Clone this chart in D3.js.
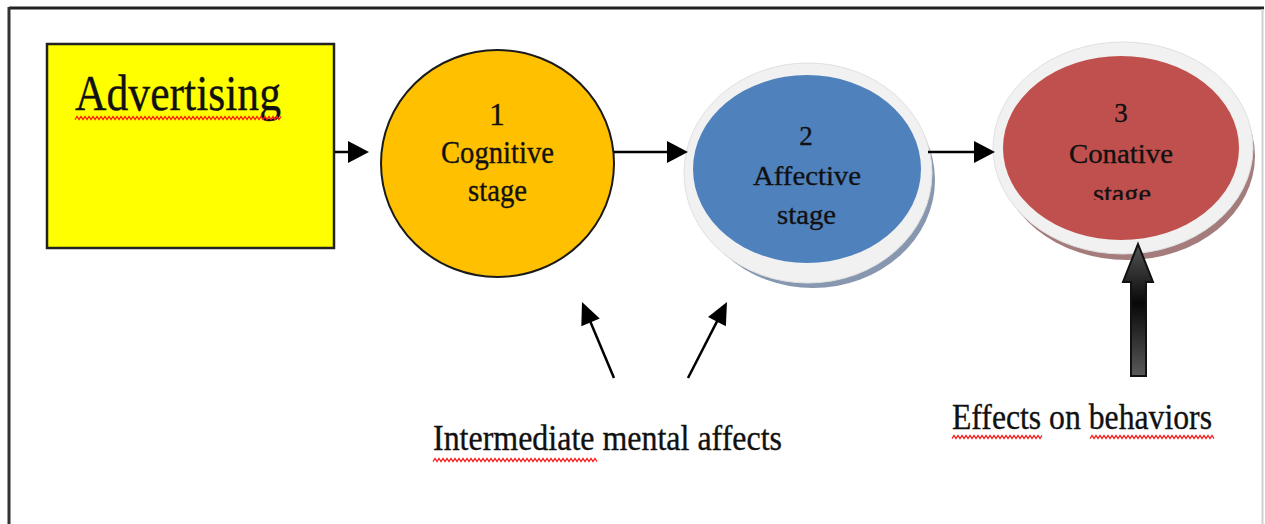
<!DOCTYPE html>
<html>
<head>
<meta charset="utf-8">
<script src="https://cdn.jsdelivr.net/npm/d3@7"></script>
<style>
  html, body { margin: 0; padding: 0; background: #fff; }
  svg { display: block; }
  text { font-family: "Liberation Serif", "Times New Roman", serif; fill: #111; stroke: #111; stroke-width: 0.35px; }
</style>
</head>
<body>
<svg id="chart" width="1265" height="524"></svg>
<script>
// ---- content ----
const sourceLabel = "Advertising";
const stageNumbers = ["1", "2", "3"];
const stageNames = ["Cognitive", "Affective", "Conative"];
const stageSuffix = ["stage", "stage", "stage"];
const mentalLabel = "Intermediate mental affects";
const behaviorLabel = "Effects on behaviors";

// ---- layout (kept separate from content) ----
const W = 1265, H = 524;
const svg = d3.select("#chart");
const defs = svg.append("defs");

const nodes = [
  { cx: 497.5, cy: 163.5, rx: 116.5, ry: 113.5, fill: "#FFC000", stroke: "#1a1a1a", rim: null,
    numY: 125, nameY: 163, sufY: 201, fs: 31, nameW: 113, sufW: 59, numX: 497, sufX: 497.5, clip: null },
  { cx: 807, cy: 169, rx: 114, ry: 94, fill: "#4F81BD", stroke: "none",
    rim: { cx: 808, cy: 173, rx: 124, ry: 110, shadow: "#8797b0", dx: 5, dy: 7 },
    numY: 145, nameY: 185, sufY: 224, fs: 27, nameW: 108, sufW: 59, numX: 806, sufX: 806.5, clip: null },
  { cx: 1121, cy: 148, rx: 118, ry: 92, fill: "#C0504D", stroke: "none",
    rim: { cx: 1123, cy: 148, rx: 130, ry: 106, shadow: "#a57c7c", dx: 4, dy: 8 },
    numY: 122, nameY: 163, sufY: 203, fs: 27, nameW: 104, sufW: 58, numX: 1121, sufX: 1122, clip: 200 }
];

// outer frame
svg.append("line").attr("x1", 9).attr("y1", 8).attr("x2", 1264).attr("y2", 8)
  .attr("stroke", "#222").attr("stroke-width", 3);
svg.append("line").attr("x1", 9).attr("y1", 7).attr("x2", 9).attr("y2", H)
  .attr("stroke", "#333").attr("stroke-width", 3);
svg.append("line").attr("x1", 1262.5).attr("y1", 9).attr("x2", 1262.5).attr("y2", H)
  .attr("stroke", "#cfcfcf").attr("stroke-width", 2);

// source box
svg.append("rect").attr("x", 47).attr("y", 44).attr("width", 287).attr("height", 204)
  .attr("fill", "#FFFF00").attr("stroke", "#222").attr("stroke-width", 2.5);

function fitText(sel, w) {
  sel.attr("textLength", w).attr("lengthAdjust", "spacingAndGlyphs");
  return sel;
}

fitText(svg.append("text").attr("x", 75).attr("y", 110).attr("font-size", 50).text(sourceLabel), 206);

function squiggle(x1, x2, y) {
  const pts = [];
  const step = 2;
  let i = 0;
  for (let x = x1; x <= x2; x += step, i++) pts.push([x, y + (i % 2 ? -1.6 : 1.6)]);
  svg.append("path").attr("d", d3.line()(pts)).attr("fill", "none")
    .attr("stroke", "#ff1a1a").attr("stroke-width", 1.1);
}

nodes.forEach((n, i) => {
  if (n.rim) {
    svg.append("ellipse").attr("cx", n.rim.cx + n.rim.dx).attr("cy", n.rim.cy + n.rim.dy)
      .attr("rx", n.rim.rx - 2).attr("ry", n.rim.ry - 2).attr("fill", n.rim.shadow);
    svg.append("ellipse").attr("cx", n.rim.cx).attr("cy", n.rim.cy)
      .attr("rx", n.rim.rx).attr("ry", n.rim.ry).attr("fill", "#f1f1f1")
      .attr("stroke", "#e0e0e0").attr("stroke-width", 1);
  }
  svg.append("ellipse").attr("cx", n.cx).attr("cy", n.cy).attr("rx", n.rx).attr("ry", n.ry)
    .attr("fill", n.fill).attr("stroke", n.stroke).attr("stroke-width", 2);

  const g = svg.append("g");
  if (n.clip) {
    const id = "clip" + i;
    defs.append("clipPath").attr("id", id).append("rect")
      .attr("x", n.cx - 150).attr("y", 0).attr("width", 300).attr("height", n.clip);
    g.attr("clip-path", `url(#${id})`);
  }
  g.append("text").attr("x", n.numX).attr("y", n.numY).attr("font-size", n.fs)
    .attr("text-anchor", "middle").text(stageNumbers[i]);
  fitText(g.append("text").attr("x", n.cx).attr("y", n.nameY).attr("font-size", n.fs)
    .attr("text-anchor", "middle").text(stageNames[i]), n.nameW);
  fitText(g.append("text").attr("x", n.sufX).attr("y", n.sufY).attr("font-size", n.fs)
    .attr("text-anchor", "middle").text(stageSuffix[i]), n.sufW);
});

function arrow(x1, y1, x2, y2, hl, hw, sw) {
  const a = Math.atan2(y2 - y1, x2 - x1);
  const bx = x2 - hl * Math.cos(a), by = y2 - hl * Math.sin(a);
  svg.append("line").attr("x1", x1).attr("y1", y1).attr("x2", bx + Math.cos(a)).attr("y2", by + Math.sin(a))
    .attr("stroke", "#000").attr("stroke-width", sw);
  const px = -Math.sin(a) * hw / 2, py = Math.cos(a) * hw / 2;
  svg.append("path")
    .attr("d", `M${x2},${y2}L${bx + px},${by + py}L${bx - px},${by - py}Z`)
    .attr("fill", "#000");
}
arrow(335, 152, 369, 152, 21, 22, 2.5);
arrow(614, 152, 688, 152, 21, 22, 2.5);
arrow(928, 152, 995, 152, 21, 22, 2.5);
arrow(614, 378, 582, 302, 22, 20, 2.5);
arrow(688, 378, 727, 302, 22, 20, 2.5);

const grad = defs.append("linearGradient").attr("id", "blk").attr("x1", 0).attr("y1", 0).attr("x2", 0).attr("y2", 1);
grad.append("stop").attr("offset", "0%").attr("stop-color", "#555");
grad.append("stop").attr("offset", "45%").attr("stop-color", "#080808");
grad.append("stop").attr("offset", "100%").attr("stop-color", "#5a5a5a");
svg.append("path")
  .attr("d", "M1138,244L1153,282L1146,282L1146,376L1131,376L1131,282L1123,282Z")
  .attr("fill", "url(#blk)").attr("stroke", "#111").attr("stroke-width", 2).attr("stroke-linejoin", "miter");

fitText(svg.append("text").attr("x", 433).attr("y", 450).attr("font-size", 35).text(mentalLabel), 349);
fitText(svg.append("text").attr("x", 952).attr("y", 429).attr("font-size", 36).text(behaviorLabel), 260);

squiggle(75, 281, 118);
squiggle(433, 597, 460);
squiggle(952, 1043, 437);
squiggle(1090, 1215, 437);
</script>
</body>
</html>
